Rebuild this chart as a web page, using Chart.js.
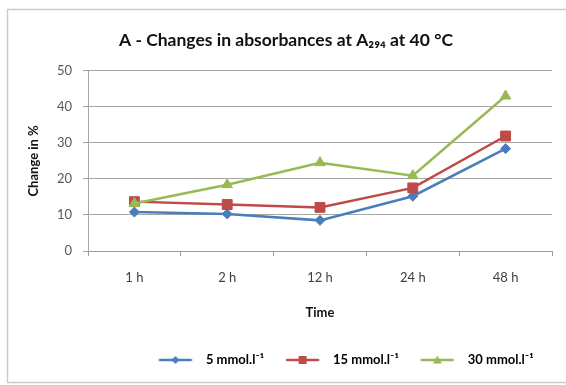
<!DOCTYPE html>
<html>
<head>
<meta charset="utf-8">
<script src="https://cdn.jsdelivr.net/npm/chart.js@4.4.1/dist/chart.umd.min.js"></script>
<style>
  html, body { margin: 0; padding: 0; background: #fff; }
  #absorbance-chart { display: block; }
</style>
</head>
<body>
<canvas id="absorbance-chart" width="566" height="385"></canvas>
<script>
// data
var timeLabels = ['1 h', '2 h', '12 h', '24 h', '48 h'];
var conc5 = [10.8, 10.3, 8.5, 15.2, 28.4];
var conc15 = [13.7, 12.9, 12.1, 17.5, 31.9];
var conc30 = [13.2, 18.4, 24.5, 20.9, 43.0];
var seriesNames = ['5 mmol.l\u207B\u00B9', '15 mmol.l\u207B\u00B9', '30 mmol.l\u207B\u00B9'];
var yTicks = [0, 10, 20, 30, 40, 50];

var blue = '#4a7ebb';
var red = '#be4b48';
var green = '#98b954';
var fontFamily = 'Lato, "Open Sans", sans-serif';

// legend icon: short line with the marker in the middle
function legendIcon(color, shape) {
    var c = document.createElement('canvas');
    c.width = 44;
    c.height = 12;
    var g = c.getContext('2d');
    var x0 = 3.5, x1 = 36.5, cx = 20, cy = 6;
    g.strokeStyle = color;
    g.fillStyle = color;
    g.lineWidth = 2.5;
    g.beginPath();
    g.moveTo(x0, cy);
    g.lineTo(x1, cy);
    g.stroke();
    g.beginPath();
    if (shape === 'diamond') {
        g.moveTo(cx, cy - 4); g.lineTo(cx + 4, cy); g.lineTo(cx, cy + 4); g.lineTo(cx - 4, cy);
    } else if (shape === 'square') {
        g.rect(cx - 4, cy - 4, 8, 8);
    } else {
        g.moveTo(cx, cy - 4.5); g.lineTo(cx + 4.5, cy + 3.5); g.lineTo(cx - 4.5, cy + 3.5);
    }
    g.closePath();
    g.fill();
    return c;
}
var legendIcons = [legendIcon(blue, 'diamond'), legendIcon(red, 'square'), legendIcon(green, 'triangle')];

// light frame around the whole chart
var framePlugin = {
    id: 'frame',
    beforeDraw: function(chart) {
        var ctx = chart.ctx;
        ctx.save();
        ctx.fillStyle = '#ffffff';
        ctx.fillRect(0, 0, chart.width, chart.height);
        ctx.strokeStyle = '#cccccc';
        ctx.lineWidth = 1.5;
        ctx.strokeRect(7.5, 9.5, chart.width, 373);
        ctx.restore();
    }
};

var ctx = document.getElementById('absorbance-chart');
new Chart(ctx, {
    type: 'line',
    data: {
        labels: timeLabels,
        datasets: [{
            label: seriesNames[0],
            data: conc5,
            borderColor: blue,
            backgroundColor: blue,
            pointStyle: 'rectRot',
            pointRadius: 5,
            order: 3
        }, {
            label: seriesNames[1],
            data: conc15,
            borderColor: red,
            backgroundColor: red,
            pointStyle: 'rect',
            pointRadius: 7,
            order: 2
        }, {
            label: seriesNames[2],
            data: conc30,
            borderColor: green,
            backgroundColor: green,
            pointStyle: 'triangle',
            pointRadius: 6,
            order: 1
        }]
    },
    options: {
        responsive: false,
        animation: false,
        devicePixelRatio: 1,
        layout: {
            padding: { left: 20, right: 14, top: 10, bottom: 8.5 }
        },
        elements: {
            line: { borderWidth: 2.5, tension: 0 },
            point: { borderWidth: 1, hoverRadius: 6 }
        },
        plugins: {
            title: {
                display: true,
                text: 'A - Changes in absorbances at A\u2082\u2089\u2084 at 40 \u00B0C',
                color: '#111111',
                font: { family: fontFamily, size: 17.5, weight: 'bold' },
                padding: { top: 19.5, bottom: 20.3 }
            },
            legend: {
                position: 'bottom',
                align: 'end',
                labels: {
                    usePointStyle: true,
                    pointStyleWidth: 44,
                    padding: 18.5,
                    color: '#333333',
                    font: { family: fontFamily, size: 13, weight: 'bold' },
                    generateLabels: function(chart) {
                        return chart.data.datasets.map(function(ds, i) {
                            return {
                                text: ds.label,
                                pointStyle: legendIcons[i],
                                fillStyle: ds.borderColor,
                                strokeStyle: ds.borderColor,
                                lineWidth: 0,
                                hidden: false,
                                datasetIndex: i
                            };
                        });
                    }
                }
            },
            tooltip: { enabled: false }
        },
        scales: {
            x: {
                offset: true,
                afterFit: function(scale) { scale.height = 84; },
                grid: {
                    offset: true,
                    drawOnChartArea: false,
                    drawTicks: true,
                    tickLength: 5,
                    color: '#9a9a9a'
                },
                border: { display: true, color: '#9a9a9a', width: 1 },
                ticks: {
                    padding: 14.2,
                    color: '#404040',
                    font: { family: fontFamily, size: 13 }
                },
                title: {
                    display: true,
                    text: 'Time',
                    color: '#111111',
                    font: { family: fontFamily, size: 13, weight: 'bold' },
                    padding: { top: 0, bottom: 14.2 }
                }
            },
            y: {
                min: 0,
                max: 50,
                afterFit: function(scale) { scale.width = 68; },
                afterBuildTicks: function(scale) {
                    scale.ticks = yTicks.map(function(v) { return { value: v }; });
                },
                grid: {
                    color: '#a6a6a6',
                    drawTicks: true,
                    tickLength: 5
                },
                border: { display: true, color: '#a6a6a6', width: 1 },
                ticks: {
                    padding: 11,
                    color: '#595959',
                    font: { family: fontFamily, size: 13 }
                },
                title: {
                    display: true,
                    text: 'Change in %',
                    color: '#111111',
                    font: { family: fontFamily, size: 13, weight: 'bold' },
                    padding: { top: 6.2, bottom: 0 }
                }
            }
        }
    },
    plugins: [framePlugin]
});
</script>
</body>
</html>
